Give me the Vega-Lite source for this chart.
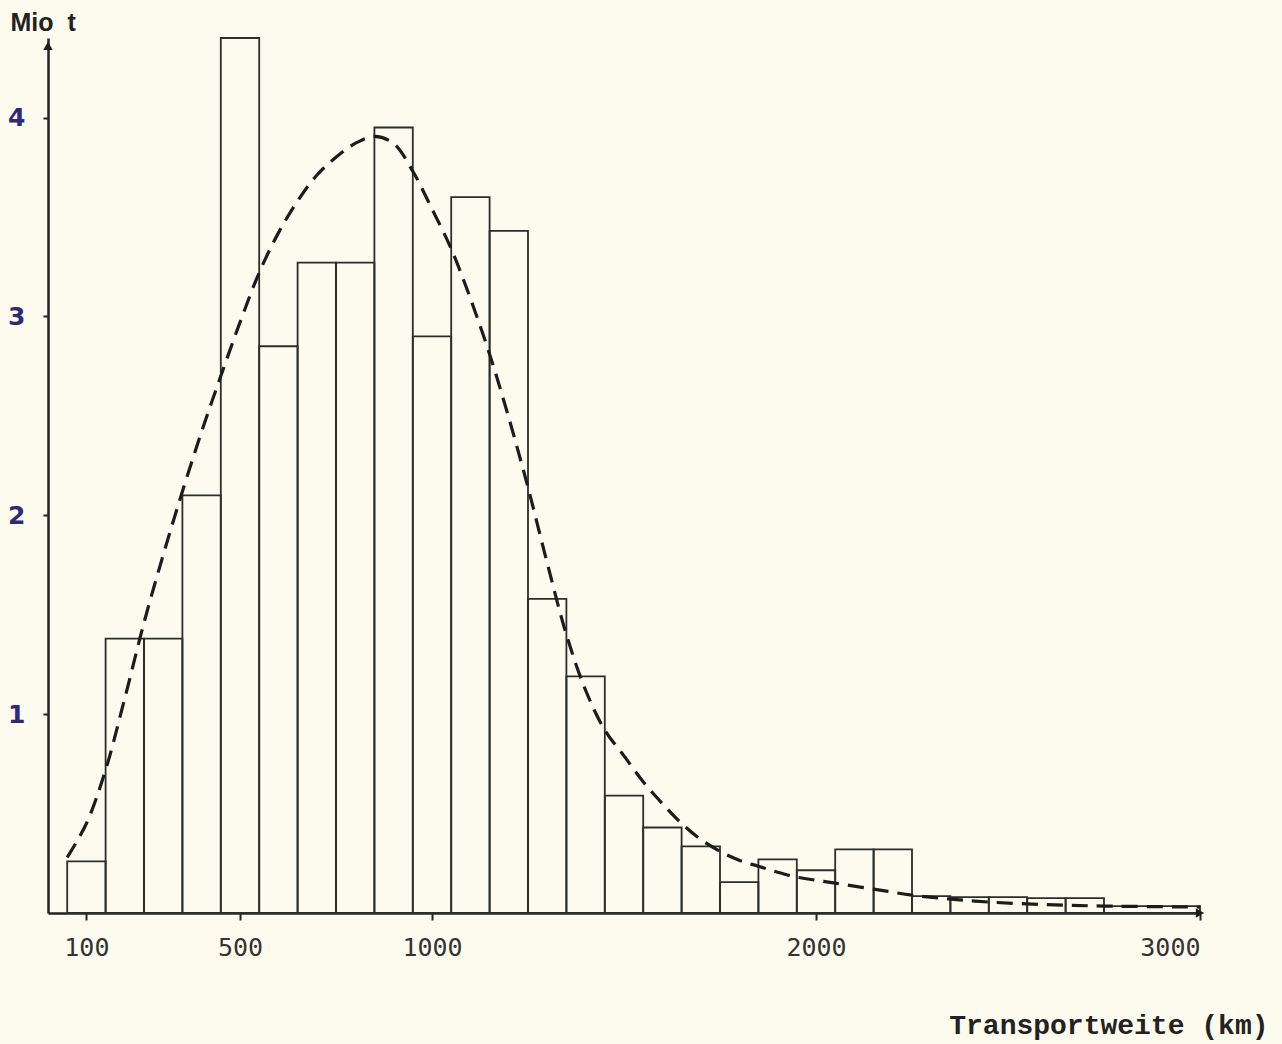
{
  "$schema": "https://vega.github.io/schema/vega-lite/v6.json",
  "autosize": "none",
  "width": 1152,
  "height": 875,
  "padding": {"left": 48, "top": 38, "right": 82, "bottom": 131},
  "background": "#fdfbee",
  "config": {
    "view": {"stroke": null},
    "axis": {"grid": false, "domainColor": "#222", "tickColor": "#222"}
  },
  "datasets": {
    "bars": [
      {"von": 50, "bis": 150, "mio_t": 0.26},
      {"von": 150, "bis": 250, "mio_t": 1.38},
      {"von": 250, "bis": 350, "mio_t": 1.38},
      {"von": 350, "bis": 450, "mio_t": 2.1},
      {"von": 450, "bis": 550, "mio_t": 4.4},
      {"von": 550, "bis": 650, "mio_t": 2.85},
      {"von": 650, "bis": 750, "mio_t": 3.27},
      {"von": 750, "bis": 850, "mio_t": 3.27},
      {"von": 850, "bis": 950, "mio_t": 3.95},
      {"von": 950, "bis": 1050, "mio_t": 2.9},
      {"von": 1050, "bis": 1150, "mio_t": 3.6},
      {"von": 1150, "bis": 1250, "mio_t": 3.43},
      {"von": 1250, "bis": 1350, "mio_t": 1.58},
      {"von": 1350, "bis": 1450, "mio_t": 1.19},
      {"von": 1450, "bis": 1550, "mio_t": 0.59},
      {"von": 1550, "bis": 1650, "mio_t": 0.43},
      {"von": 1650, "bis": 1750, "mio_t": 0.335},
      {"von": 1750, "bis": 1850, "mio_t": 0.155},
      {"von": 1850, "bis": 1950, "mio_t": 0.27},
      {"von": 1950, "bis": 2050, "mio_t": 0.215},
      {"von": 2050, "bis": 2150, "mio_t": 0.32},
      {"von": 2150, "bis": 2250, "mio_t": 0.32},
      {"von": 2250, "bis": 2350, "mio_t": 0.085},
      {"von": 2350, "bis": 2450, "mio_t": 0.08},
      {"von": 2450, "bis": 2550, "mio_t": 0.08},
      {"von": 2550, "bis": 2650, "mio_t": 0.075},
      {"von": 2650, "bis": 2750, "mio_t": 0.075},
      {"von": 2750, "bis": 3000, "mio_t": 0.035}
    ],
    "kurve": [
      {"km": 50, "mio_t": 0.28},
      {"km": 100, "mio_t": 0.45},
      {"km": 150, "mio_t": 0.72},
      {"km": 200, "mio_t": 1.08},
      {"km": 250, "mio_t": 1.46},
      {"km": 300, "mio_t": 1.8},
      {"km": 350, "mio_t": 2.12},
      {"km": 400, "mio_t": 2.42},
      {"km": 450, "mio_t": 2.7},
      {"km": 500, "mio_t": 2.97},
      {"km": 550, "mio_t": 3.22},
      {"km": 600, "mio_t": 3.42},
      {"km": 650, "mio_t": 3.58},
      {"km": 700, "mio_t": 3.71},
      {"km": 750, "mio_t": 3.8},
      {"km": 800, "mio_t": 3.87},
      {"km": 850, "mio_t": 3.905},
      {"km": 900, "mio_t": 3.87},
      {"km": 950, "mio_t": 3.73},
      {"km": 1000, "mio_t": 3.54},
      {"km": 1050, "mio_t": 3.34},
      {"km": 1100, "mio_t": 3.09},
      {"km": 1150, "mio_t": 2.81},
      {"km": 1200, "mio_t": 2.49},
      {"km": 1250, "mio_t": 2.14},
      {"km": 1300, "mio_t": 1.76},
      {"km": 1350, "mio_t": 1.4},
      {"km": 1400, "mio_t": 1.12},
      {"km": 1450, "mio_t": 0.92},
      {"km": 1500, "mio_t": 0.79},
      {"km": 1550, "mio_t": 0.66},
      {"km": 1600, "mio_t": 0.55},
      {"km": 1650, "mio_t": 0.45},
      {"km": 1700, "mio_t": 0.37},
      {"km": 1750, "mio_t": 0.31},
      {"km": 1800, "mio_t": 0.265},
      {"km": 1850, "mio_t": 0.235},
      {"km": 1900, "mio_t": 0.205},
      {"km": 1950, "mio_t": 0.18},
      {"km": 2000, "mio_t": 0.165},
      {"km": 2050, "mio_t": 0.15},
      {"km": 2150, "mio_t": 0.12},
      {"km": 2250, "mio_t": 0.09},
      {"km": 2350, "mio_t": 0.07},
      {"km": 2450, "mio_t": 0.055},
      {"km": 2600, "mio_t": 0.042},
      {"km": 2750, "mio_t": 0.035},
      {"km": 3000, "mio_t": 0.03}
    ],
    "pfeile": [
      {"km": 0, "mio_t": 4.36, "form": "triangle-up"},
      {"km": 3000, "mio_t": 0, "form": "triangle-right"}
    ]
  },
  "layer": [
    {
      "data": {"name": "bars"},
      "mark": {"type": "rect", "fill": "transparent", "stroke": "#2a2f2a", "strokeWidth": 1.8},
      "encoding": {
        "x": {
          "field": "von", "type": "quantitative",
          "scale": {"domain": [0, 3000], "nice": false, "zero": false},
          "axis": {
            "values": [100, 500, 1000, 2000, 3000],
            "format": "d",
            "domainWidth": 2.5,
            "tickSize": 7, "tickWidth": 2,
            "labelPadding": 15,
            "labelFont": "DejaVu Sans Mono", "labelFontSize": 25, "labelColor": "#333",
            "title": "Transportweite (km)",
            "titleFont": "Liberation Mono", "titleFontSize": 28, "titleFontWeight": "bold", "titleColor": "#222",
            "titleAnchor": null, "titleAlign": "right", "titleBaseline": "alphabetic",
            "titleX": 1220, "titleY": 120
          }
        },
        "x2": {"field": "bis"},
        "y": {
          "field": "mio_t", "type": "quantitative",
          "scale": {"domain": [0, 4.4], "nice": false},
          "axis": {
            "values": [1, 2, 3, 4],
            "format": "d",
            "domainWidth": 2.5,
            "tickSize": 5, "tickWidth": 2,
            "labelPadding": 18,
            "labelFont": "DejaVu Sans", "labelFontSize": 25, "labelFontWeight": "bold", "labelColor": "#2e2a7a",
            "title": "Mio\u00a0\u00a0t",
            "titleFont": "Liberation Sans", "titleFontSize": 25, "titleFontWeight": "bold", "titleColor": "#222",
            "titleAngle": 0, "titleAlign": "left", "titleBaseline": "alphabetic",
            "titleAnchor": null, "titleX": -38, "titleY": -8
          }
        },
        "y2": {"datum": 0}
      }
    },
    {
      "data": {"name": "kurve"},
      "mark": {"type": "line", "interpolate": "catmull-rom", "color": "#1c1c1c", "strokeWidth": 3.2, "strokeDash": [16, 9]},
      "encoding": {
        "x": {"field": "km", "type": "quantitative"},
        "y": {"field": "mio_t", "type": "quantitative"}
      }
    },
    {
      "data": {"name": "pfeile"},
      "mark": {"type": "point", "filled": true, "color": "#1c1c1c", "size": 90, "opacity": 1},
      "encoding": {
        "x": {"field": "km", "type": "quantitative"},
        "y": {"field": "mio_t", "type": "quantitative"},
        "shape": {"field": "form", "type": "nominal", "scale": {"domain": ["triangle-up", "triangle-right"], "range": ["triangle-up", "triangle-right"]}, "legend": null}
      }
    }
  ]
}
